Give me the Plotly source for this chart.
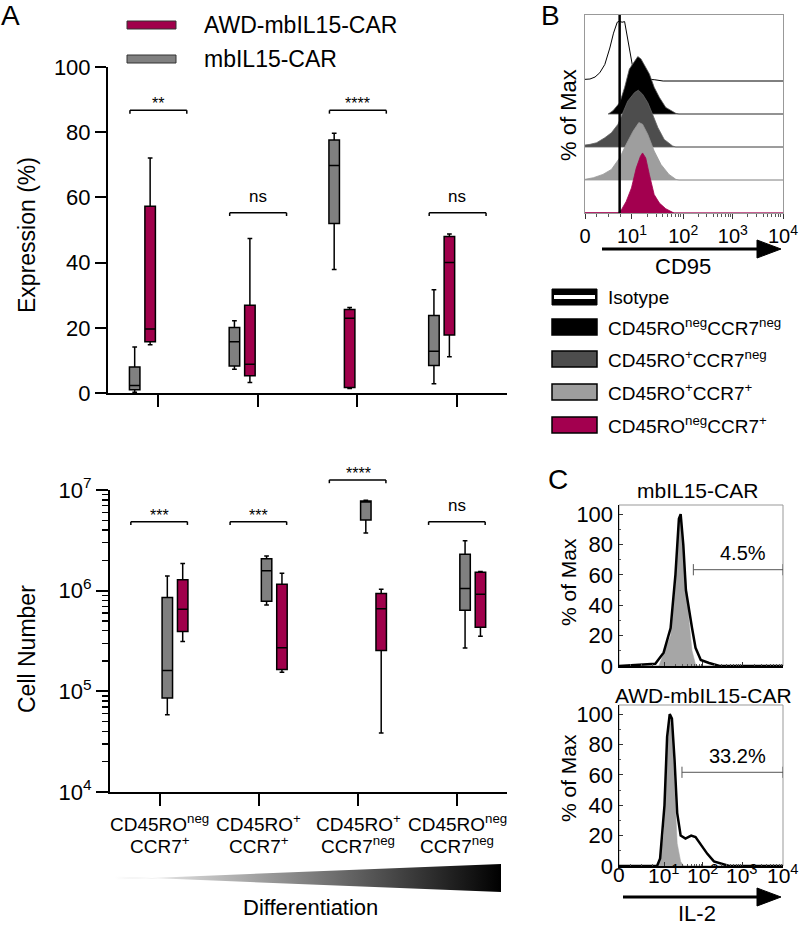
import math
import plotly.graph_objects as go

W, H = 800, 927
FONT = "Liberation Sans, Arial, Helvetica, sans-serif"
MAROON = "#a0004b"
BOXGRAY = "#808080"

# ---------------- Panel A data ----------------
categories = ["CD45ROneg CCR7+", "CD45RO+ CCR7+", "CD45RO+ CCR7neg", "CD45ROneg CCR7neg"]
cat_line1 = ["CD45RO<sup>neg</sup>", "CD45RO<sup>+</sup>", "CD45RO<sup>+</sup>", "CD45RO<sup>neg</sup>"]
cat_line2 = ["CCR7<sup>+</sup>", "CCR7<sup>+</sup>", "CCR7<sup>neg</sup>", "CCR7<sup>neg</sup>"]
series_names = ["mbIL15-CAR", "AWD-mbIL15-CAR"]

# Expression (%)
expr_mb_low = [0.2, 7.3, 37.9, 2.8]
expr_mb_q1 = [1.0, 8.3, 52.0, 8.4]
expr_mb_med = [2.3, 15.7, 69.8, 12.8]
expr_mb_q3 = [8.0, 20.1, 77.6, 23.8]
expr_mb_high = [14.1, 22.2, 79.7, 31.7]
expr_awd_low = [14.8, 3.2, 1.4, 11.1]
expr_awd_q1 = [15.7, 5.3, 1.7, 17.8]
expr_awd_med = [19.6, 8.8, 22.9, 40.0]
expr_awd_q3 = [57.3, 26.9, 25.6, 48.0]
expr_awd_high = [72.1, 47.4, 26.2, 48.8]
expr_sig = ["**", "ns", "****", "ns"]
expr_sig_y = [86.7, 55.3, 86.7, 55.3]

# Cell number
cell_mb_low = [5.85e4, 7.22e5, 3.74e6, 2.69e5]
cell_mb_q1 = [8.57e4, 7.86e5, 5.04e6, 6.4e5]
cell_mb_med = [1.61e5, 1.58e6, 7.6e6, 1.05e6]
cell_mb_q3 = [8.55e5, 2.07e6, 7.77e6, 2.3e6]
cell_mb_high = [1.40e6, 2.21e6, 7.89e6, 3.14e6]
cell_awd_low = [3.13e5, 1.55e5, 3.85e4, 3.53e5]
cell_awd_q1 = [3.93e5, 1.65e5, 2.55e5, 4.34e5]
cell_awd_med = [6.55e5, 2.71e5, 6.63e5, 9.23e5]
cell_awd_q3 = [1.28e6, 1.16e6, 9.35e5, 1.52e6]
cell_awd_high = [1.86e6, 1.49e6, 1.03e6, 1.55e6]
cell_sig = ["***", "***", "****", "ns"]
cell_sig_y = [4.85e6, 4.85e6, 1.26e7, 4.85e6]

# ---------------- Flow axes (display units, biexponential-like) ----------------
flow_ticktext = ["0", "10<sup>1</sup>", "10<sup>2</sup>", "10<sup>3</sup>", "10<sup>4</sup>"]
cd95_tickvals = [0, 0.89, 1.86, 2.80, 3.75]
il2_tickvals = [0, 1.03, 1.92, 2.82, 3.75]

# ---------------- Panel B data (CD95 histograms) ----------------
cd95_labels = ["Isotype", "CD45RO<sup>neg</sup>CCR7<sup>neg</sup>", "CD45RO<sup>+</sup>CCR7<sup>neg</sup>",
               "CD45RO<sup>+</sup>CCR7<sup>+</sup>", "CD45RO<sup>neg</sup>CCR7<sup>+</sup>"]
cd95_colors = ["white", "#000000", "#4d4d4d", "#9e9e9e", "#a3004f"]

cd95_iso_x = [0, 0.094, 0.19, 0.28, 0.375, 0.47, 0.54, 0.61, 0.656, 0.70, 0.75, 0.79, 0.84, 0.90, 0.99, 1.16, 1.31, 1.47, 1.48, 3.75]
cd95_iso_h = [0.05, 0.06, 0.12, 0.25, 0.5, 1.0, 1.45, 1.78, 1.82, 1.78, 1.8, 1.45, 0.9, 0.45, 0.15, 0.05, 0.04, 0.02, 0, 0]
cd95_nn_x = [0.44, 0.53, 0.66, 0.75, 0.84, 0.94, 1.0, 1.06, 1.15, 1.22, 1.31, 1.41, 1.53, 1.72, 1.78]
cd95_nn_h = [0, 0.1, 0.35, 0.8, 1.36, 1.62, 1.74, 1.67, 1.41, 1.21, 0.81, 0.5, 0.2, 0.02, 0]
cd95_pn_x = [0, 0.094, 0.22, 0.375, 0.5, 0.625, 0.72, 0.81, 0.94, 1.01, 1.09, 1.19, 1.28, 1.38, 1.5, 1.66, 1.72]
cd95_pn_h = [0.06, 0.08, 0.13, 0.28, 0.43, 0.69, 1.04, 1.39, 1.65, 1.72, 1.6, 1.34, 0.99, 0.59, 0.23, 0.03, 0]
cd95_pp_x = [0, 0.16, 0.34, 0.5, 0.66, 0.78, 0.91, 1.02, 1.09, 1.19, 1.31, 1.44, 1.59, 1.72, 1.78]
cd95_pp_h = [0.02, 0.07, 0.17, 0.32, 0.68, 1.08, 1.48, 1.74, 1.69, 1.38, 0.88, 0.47, 0.17, 0.02, 0]
cd95_np_x = [0, 0.625, 0.69, 0.78, 0.88, 0.97, 1.05, 1.09, 1.15, 1.22, 1.31, 1.41, 1.53, 1.66, 1.69]
cd95_np_h = [0.01, 0.01, 0.1, 0.35, 0.76, 1.36, 1.72, 1.82, 1.67, 1.16, 0.56, 0.3, 0.13, 0.02, 0]
cd95_isotype_gate = 0.656

# ---------------- Panel C data (IL-2 histograms) ----------------
il2_mb_ctrl_x = [0.91, 1.18, 1.29, 1.37, 1.41, 1.48, 1.60, 1.67, 1.75, 1.80]
il2_mb_ctrl_y = [0, 20, 55, 95, 97, 70, 30, 10, 1, 0]
il2_mb_stim_x = [0, 0.83, 1.02, 1.18, 1.29, 1.37, 1.41, 1.47, 1.53, 1.60, 1.67, 1.75, 1.87, 2.06, 2.21, 2.3, 3.75]
il2_mb_stim_y = [0, 1.5, 8.8, 25, 60, 97, 100, 80, 50, 36, 25, 12, 4, 2, 0.5, 0, 0]
il2_awd_ctrl_x = [0.90, 1.02, 1.10, 1.16, 1.21, 1.27, 1.33, 1.41, 1.48]
il2_awd_ctrl_y = [0, 20, 75, 98, 90, 50, 15, 3, 0]
il2_awd_stim_x = [0, 0.87, 0.94, 1.04, 1.10, 1.16, 1.21, 1.27, 1.33, 1.41, 1.52, 1.65, 1.75, 1.87, 2.02, 2.17, 2.37, 2.52, 3.75]
il2_awd_stim_y = [0, 0, 5, 40, 85, 100, 97, 70, 35, 20, 18, 20, 19, 14, 8, 3, 1, 0, 0]
il2_mb_gate = [1.70, 3.75]
il2_mb_gate_y = 63.4
il2_mb_pct = "4.5%"
il2_awd_gate = [1.44, 3.75]
il2_awd_gate_y = 61.7
il2_awd_pct = "33.2%"


def px(x):
    return x / W


def py(y):
    return 1 - y / H


def minor_between(major):
    out = []
    for a, b in zip(major[1:-1], major[2:]):
        out += [round(a + math.log10(k) * (b - a), 4) for k in range(2, 10)]
    a = major[1]
    out += [round(a * f, 4) for f in (0.25, 0.5, 0.75)]
    return out


fig = go.Figure()

# ---------- Box plots ----------
box_sets = [
    ("x", "y", [expr_mb_low, expr_mb_q1, expr_mb_med, expr_mb_q3, expr_mb_high],
     [expr_awd_low, expr_awd_q1, expr_awd_med, expr_awd_q3, expr_awd_high]),
    ("x2", "y2", [cell_mb_low, cell_mb_q1, cell_mb_med, cell_mb_q3, cell_mb_high],
     [cell_awd_low, cell_awd_q1, cell_awd_med, cell_awd_q3, cell_awd_high]),
]
for xa, ya, mb, awd in box_sets:
    for name, stats, col in [(series_names[0], mb, BOXGRAY), (series_names[1], awd, MAROON)]:
        lo, q1, med, q3, hi = stats
        fig.add_trace(go.Box(
            x=categories, q1=q1, median=med, q3=q3, lowerfence=lo, upperfence=hi,
            name=name, fillcolor=col, line=dict(color="black", width=1.5),
            whiskerwidth=0.45, boxpoints=False, xaxis=xa, yaxis=ya, showlegend=False))

# ---------- Panel B histograms ----------
XMAX = 3.75
fig.add_trace(go.Scatter(x=cd95_iso_x, y=[4 + h for h in cd95_iso_h], mode="lines",
                         line=dict(color="black", width=1), xaxis="x3", yaxis="y3", showlegend=False))
for lane, xs, hs, col, lcol in [(3, cd95_nn_x, cd95_nn_h, cd95_colors[1], "#555555"),
                                (2, cd95_pn_x, cd95_pn_h, cd95_colors[2], "#666666"),
                                (1, cd95_pp_x, cd95_pp_h, cd95_colors[3], "#999999"),
                                (0, cd95_np_x, cd95_np_h, cd95_colors[4], cd95_colors[4])]:
    X = [xs[0]] + xs + [XMAX, XMAX, xs[0]]
    Y = [lane] + [lane + h for h in hs] + [lane, lane, lane]
    fig.add_trace(go.Scatter(x=X, y=Y, mode="lines", fill="toself", fillcolor=col,
                             line=dict(color=lcol, width=0.8), xaxis="x3", yaxis="y3", showlegend=False))
fig.add_trace(go.Scatter(x=[cd95_isotype_gate, cd95_isotype_gate], y=[0, 6], mode="lines",
                         line=dict(color="black", width=2.5), xaxis="x3", yaxis="y3", showlegend=False))

# ---------- Panel C histograms ----------
for xa, ya, cx, cy, sx, sy, gate, gy, pct in [
        ("x4", "y4", il2_mb_ctrl_x, il2_mb_ctrl_y, il2_mb_stim_x, il2_mb_stim_y, il2_mb_gate, il2_mb_gate_y, il2_mb_pct),
        ("x5", "y5", il2_awd_ctrl_x, il2_awd_ctrl_y, il2_awd_stim_x, il2_awd_stim_y, il2_awd_gate, il2_awd_gate_y, il2_awd_pct)]:
    fig.add_trace(go.Scatter(x=cx, y=cy, mode="lines", fill="tozeroy", fillcolor="#a6a6a6",
                             line=dict(color="#a6a6a6", width=0.5), xaxis=xa, yaxis=ya, showlegend=False))
    fig.add_trace(go.Scatter(x=sx, y=sy, mode="lines", line=dict(color="black", width=2.5),
                             xaxis=xa, yaxis=ya, showlegend=False))
    fig.add_trace(go.Scatter(x=gate, y=[gy, gy], mode="lines+markers",
                             line=dict(color="#555555", width=1),
                             marker=dict(symbol="line-ns", size=8, line=dict(color="#555555", width=1)),
                             xaxis=xa, yaxis=ya, showlegend=False))
    fig.add_annotation(x=(gate[0] + gate[1]) / 2 + 0.12, y=gy + 11, xref=xa, yref=ya, text=pct,
                       showarrow=False, font=dict(size=20, family=FONT, color="black"))

# ---------- Gradient wedge ----------
fig.add_trace(go.Scatter(x=[0, 1, 1, 0, 0], y=[0.45, 1, 0, 0.55, 0.45], mode="lines", fill="toself",
                         fillgradient=dict(type="horizontal", colorscale=[[0, "white"], [1, "black"]]),
                         line=dict(width=0, color="rgba(0,0,0,0)"), xaxis="x6", yaxis="y6", showlegend=False))

# ---------- Axes ----------
log_minor = [k * 10 ** e for e in range(4, 7) for k in range(2, 10)]
base = dict(showgrid=False, zeroline=False, automargin=False)

layout = dict(
    template="none",
    width=W, height=H, margin=dict(l=0, r=0, t=0, b=0, pad=0), autosize=False,
    paper_bgcolor="white", plot_bgcolor="white", showlegend=False,
    font=dict(family=FONT, color="black", size=20),
    boxmode="group", boxgap=0.38, boxgroupgap=0.32,
    xaxis=dict(base, domain=[px(108), px(507)], anchor="y", type="category", range=[-0.5, 3.5],
               categoryorder="array", categoryarray=categories,
               showline=True, linecolor="black", linewidth=2, ticks="outside", ticklen=12,
               tickwidth=2, tickcolor="black", showticklabels=False),
    yaxis=dict(base, domain=[py(393), py(67)], anchor="x", range=[0, 100], dtick=20, tick0=0,
               showline=True, linecolor="black", linewidth=2, ticks="outside", ticklen=11,
               tickwidth=2, tickcolor="black", tickfont=dict(size=22)),
    xaxis2=dict(base, domain=[px(110), px(507)], anchor="y2", type="category", range=[-0.5, 3.5],
                categoryorder="array", categoryarray=categories,
                showline=True, linecolor="black", linewidth=2, ticks="outside", ticklen=12,
                tickwidth=2, tickcolor="black", showticklabels=False),
    yaxis2=dict(base, domain=[py(792), py(490)], anchor="x2", type="log", range=[4, 7],
                tickvals=[1e4, 1e5, 1e6, 1e7],
                ticktext=["10<sup>4</sup>", "10<sup>5</sup>", "10<sup>6</sup>", "10<sup>7</sup>"],
                showline=True, linecolor="black", linewidth=2, ticks="outside", ticklen=12,
                tickwidth=2, tickcolor="black", tickfont=dict(size=22),
                minor=dict(tickvals=log_minor, ticks="outside", ticklen=6, tickwidth=1.5, tickcolor="black")),
    xaxis3=dict(base, domain=[px(585), px(783)], anchor="y3", range=[0, XMAX],
                tickvals=cd95_tickvals, ticktext=flow_ticktext, ticks="outside", ticklen=5, tickwidth=1,
                tickcolor="#333333", showline=True, linecolor="#999999", linewidth=1, mirror=True,
                tickfont=dict(size=20),
                minor=dict(tickvals=minor_between(cd95_tickvals), ticks="outside", ticklen=3, tickwidth=1,
                           tickcolor="#555555")),
    yaxis3=dict(base, domain=[py(213), py(15)], anchor="x3", range=[0, 6], showticklabels=False,
                ticks="", showline=True, linecolor="#999999", linewidth=1, mirror=True),
    xaxis4=dict(base, domain=[px(619), px(783)], anchor="y4", range=[0, XMAX],
                tickvals=il2_tickvals, ticks="inside", ticklen=4, tickcolor="#333333",
                showticklabels=False, showline=True, linecolor="black", linewidth=1.5,
                minor=dict(tickvals=minor_between(il2_tickvals), ticks="inside", ticklen=2, tickcolor="#555555")),
    yaxis4=dict(base, domain=[py(666), py(505)], anchor="x4", range=[0, 106],
                tickvals=[0, 20, 40, 60, 80, 100], ticks="inside", ticklen=4, tickcolor="#333333",
                showline=True, linecolor="black", linewidth=1.5, tickfont=dict(size=22),
                minor=dict(tickvals=[10, 30, 50, 70, 90], ticks="inside", ticklen=2, tickcolor="#555555")),
    xaxis5=dict(base, domain=[px(619), px(783)], anchor="y5", range=[0, XMAX],
                tickvals=il2_tickvals, ticks="inside", ticklen=4, tickcolor="#333333",
                showticklabels=False, showline=True, linecolor="black", linewidth=1.5,
                minor=dict(tickvals=minor_between(il2_tickvals), ticks="inside", ticklen=2, tickcolor="#555555")),
    yaxis5=dict(base, domain=[py(866), py(705)], anchor="x5", range=[0, 106],
                tickvals=[0, 20, 40, 60, 80, 100], ticks="inside", ticklen=4, tickcolor="#333333",
                showline=True, linecolor="black", linewidth=1.5, tickfont=dict(size=22),
                minor=dict(tickvals=[10, 30, 50, 70, 90], ticks="inside", ticklen=2, tickcolor="#555555")),
    xaxis6=dict(domain=[px(115), px(501)], anchor="y6", range=[0, 1], visible=False, automargin=False),
    yaxis6=dict(domain=[py(892), py(864)], anchor="x6", range=[0, 1], visible=False, automargin=False),
)
fig.update_layout(**layout)

shapes = []
annotations = []


def ann(text, x, y, size, xanchor="center", yanchor="middle", angle=0, xref="paper", yref="paper", yshift=0):
    annotations.append(dict(text=text, x=x, y=y, xref=xref, yref=yref, showarrow=False,
                            xanchor=xanchor, yanchor=yanchor, textangle=angle, yshift=yshift,
                            borderpad=0, font=dict(size=size, family=FONT, color="black")))


# ---------- Significance brackets ----------
def ydom_lin(v):
    return v / 100.0


def ydom_log(v):
    return (math.log10(v) - 4) / 3.0


for xr, yr, sigs, ys, conv, leg, offs in [
        ("x domain", "y domain", expr_sig, expr_sig_y, ydom_lin, 3.3 / 326, (-0.28, 0.29)),
        ("x2 domain", "y2 domain", cell_sig, cell_sig_y, ydom_log, 3.3 / 302, (-0.29, 0.28))]:
    for i, (s, v) in enumerate(zip(sigs, ys)):
        yd = conv(v)
        x0 = (i + 0.5 + offs[0]) / 4
        x1 = (i + 0.5 + offs[1]) / 4
        for a, b, c, d in [(x0, yd - leg, x0, yd), (x0, yd, x1, yd), (x1, yd, x1, yd - leg)]:
            shapes.append(dict(type="line", xref=xr, yref=yr, x0=a, y0=b, x1=c, y1=d,
                               line=dict(color="black", width=1.5)))
        is_ns = s == "ns"
        ann(s, (i + 0.5) / 4, yd, 17 if is_ns else 16, yanchor="bottom", xref=xr, yref=yr,
            yshift=6 if is_ns else -3)

# ---------- Legend for A ----------
for (y0, y1), col, label in [((21, 29), MAROON, series_names[1]), ((55, 63), BOXGRAY, series_names[0])]:
    shapes.append(dict(type="rect", xref="paper", yref="paper", x0=px(127), x1=px(176), y0=py(y1), y1=py(y0),
                       fillcolor=col, line=dict(color="#333333", width=1)))
    ann(label, px(203), py((y0 + y1) / 2), 23, xanchor="left")

# ---------- Legend for B ----------
rows = [297, 327, 359, 392, 425]
for i, (yc, label) in enumerate(zip(rows, cd95_labels)):
    if i == 0:
        shapes.append(dict(type="rect", xref="paper", yref="paper", x0=px(552), x1=px(597),
                           y0=py(yc + 8), y1=py(yc - 8), fillcolor="black", line=dict(color="black", width=1)))
        shapes.append(dict(type="rect", xref="paper", yref="paper", x0=px(554), x1=px(595),
                           y0=py(yc + 2), y1=py(yc - 2), fillcolor="white", line=dict(width=0)))
    else:
        shapes.append(dict(type="rect", xref="paper", yref="paper", x0=px(552), x1=px(597),
                           y0=py(yc + 8), y1=py(yc - 8), fillcolor=cd95_colors[i],
                           line=dict(color="black", width=1.5)))
    ann(label, px(607), py(yc), 19, xanchor="left")

# ---------- C frames (gray top/right) ----------
for xr, yr in [("x4 domain", "y4 domain"), ("x5 domain", "y5 domain")]:
    shapes.append(dict(type="rect", xref=xr, yref=yr, x0=0, x1=1, y0=0, y1=1,
                       line=dict(color="#999999", width=1), layer="below"))

# ---------- Arrows ----------
for yl, x0 in [(249, 602), (897, 623)]:
    shapes.append(dict(type="line", xref="paper", yref="paper", x0=px(x0), x1=px(760), y0=py(yl), y1=py(yl),
                       line=dict(color="black", width=3)))
    shapes.append(dict(type="path", xref="paper", yref="paper",
                       path=f"M {px(757)},{py(yl - 9)} L {px(757)},{py(yl + 9)} L {px(781)},{py(yl)} Z",
                       fillcolor="black", line=dict(color="black", width=1)))

# ---------- C bottom tick labels (tight under the frame) ----------
for tv, tt in zip(il2_tickvals, flow_ticktext):
    ann(tt, tv, py(874), 21, xref="x5")

# ---------- Texts ----------
ann("A", px(10), py(16), 28)
ann("B", px(550), py(16), 28)
ann("C", px(558), py(480), 28)
ann("Expression (%)", px(27), py(235), 23, angle=-90)
ann("Cell Number", px(27), py(649), 23, angle=-90)
for c, l1, l2 in zip(categories, cat_line1, cat_line2):
    ann(l1, c, py(823), 19, xref="x2")
    ann(l2, c, py(845), 19, xref="x2")
ann("Differentiation", px(310), py(907), 22)
ann("% of Max", px(568), py(115), 22, angle=-90)
ann("CD95", px(683), py(266), 22)
ann("mbIL15-CAR", px(697), py(490), 21)
ann("AWD-mbIL15-CAR", px(703), py(695), 21)
ann("% of Max", px(568), py(582), 21, angle=-90)
ann("% of Max", px(568), py(778), 21, angle=-90)
ann("IL-2", px(697), py(913), 22)

fig.update_layout(shapes=shapes, annotations=list(fig.layout.annotations) + annotations)
fig.write_html("out.html", config={"displayModeBar": False, "staticPlot": True},
               post_script="document.body.style.margin='0';document.body.style.overflow='hidden';")
